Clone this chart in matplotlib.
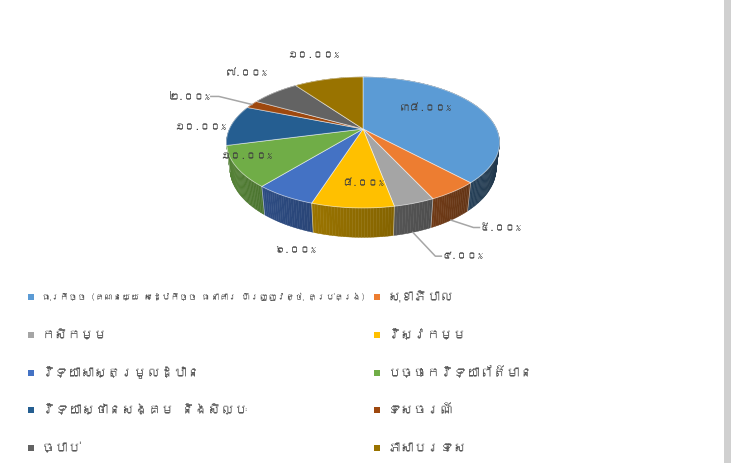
import numpy as np
import matplotlib
matplotlib.use("Agg")
import matplotlib.pyplot as plt
from matplotlib.patches import Polygon, Rectangle
import matplotlib.colors as mcolors
from matplotlib import font_manager
from matplotlib.ft2font import FT2Font

# look for an installed family that covers Khmer script
khmer_family = None
for fe in font_manager.fontManager.ttflist:
    try:
        cmap = FT2Font(fe.fname).get_charmap()
    except Exception:
        continue
    if ord("ក") in cmap and ord("្") in cmap:
        khmer_family = fe.name
        break
families = ([khmer_family] if khmer_family else []) + ["DejaVu Sans"]
plt.rcParams['font.family'] = families

# ---------------- data ----------------
categories = [
    "ធុរកិច្ច (គណនេយ្យ សេដ្ឋកិច្ច ធនាគារ ហិរញ្ញវត្ថុ គ្រប់គ្រង)",
    "សុខាភិបាល",
    "កសិកម្ម",
    "វិស្វកម្ម",
    "វិទ្យាសាស្ត្រមូលដ្ឋាន",
    "បច្ចេកវិទ្យាព័ត៌មាន",
    "វិទ្យាស្ថានសង្គម និងសិល្បៈ",
    "ទេសចរណ៍",
    "ច្បាប់",
    "ភាសាបរទេស",
]
values = [38, 5, 4, 8, 6, 10, 10, 2, 7, 10]
colors = ["#5B9BD5", "#ED7D31", "#A5A5A5", "#FFC000", "#4472C4",
          "#70AD47", "#255E91", "#9E480E", "#636363", "#997300"]

# ---------------- layout ----------------
W, H = 731, 463
fig = plt.figure(figsize=(W / 100, H / 100), dpi=100)
ax = fig.add_axes([0, 0, 1, 1])
ax.set_xlim(0, W)
ax.set_ylim(H, 0)
ax.axis("off")

cx, cy, R = 363, 129, 133.6
alpha = np.radians(28)
kpersp = 0.233
depth = 0.22


def proj(theta, r=1.0, z=0.0):
    X = r * np.sin(theta)
    Y = r * np.cos(theta)
    v = Y * np.sin(alpha) + z * np.cos(alpha)
    w = Y * np.cos(alpha) - z * np.sin(alpha)
    p = 1.0 / (1.0 + kpersp * w)
    return cx + R * X * p, cy - R * v * p


vals = np.array(values, dtype=float)
frac = vals / vals.sum()
edges = np.concatenate([[0], np.cumsum(frac)]) * 2 * np.pi


def shade(color, f):
    rgb = np.array(mcolors.to_rgb(color))
    return tuple(np.clip(rgb * f, 0, 1))


# side walls (split in small pieces, drawn back to front)
quads = []
for i in range(len(vals)):
    a0, a1 = edges[i], edges[i + 1]
    n = max(2, int(np.degrees(a1 - a0) / 1.0))
    ts = np.linspace(a0, a1, n + 1)
    for j in range(n):
        t0, t1 = ts[j], ts[j + 1]
        tm = 0.5 * (t0 + t1)
        pts = [proj(t0), proj(t1), proj(t1, z=-depth), proj(t0, z=-depth)]
        deg = np.degrees(tm)
        f = np.clip(0.38 + (deg - 125) / 110 * 0.34, 0.36, 0.74)
        quads.append((np.cos(tm), pts, shade(colors[i], f)))
quads.sort(key=lambda q: -q[0])
for _, pts, c in quads:
    ax.add_patch(Polygon(pts, closed=True, facecolor=c, edgecolor=c, lw=0.3))

# separators on front walls
for e in edges:
    if np.cos(e) < 0.15:
        x0, y0 = proj(e)
        x1, y1 = proj(e, z=-depth)
        ax.plot([x0, x1], [y0, y1], color=(1, 1, 1, 0.5), lw=0.6)

# top faces
for i in range(len(vals)):
    ts = np.linspace(edges[i], edges[i + 1], 120)
    pts = [(cx, cy)] + [proj(t) for t in ts]
    ax.add_patch(Polygon(pts, closed=True, facecolor=colors[i],
                         edgecolor=(1, 1, 1, 0.55), lw=0.6))

# ---------------- data labels ----------------
khmer_digits = str.maketrans("0123456789", "០១២៣៤៥៦៧៨៩")
label_offsets = [(-53, 0), (47, 36), (48, 53), (10, -25), (10, 54),
                 (10, -11), (-31, 2), (-62, -8), (-28, -20), (-15, -24)]
leader = {1: "right", 2: "right", 7: "left"}
for i in range(len(vals)):
    mid = 0.5 * (edges[i] + edges[i + 1])
    ax_, ay_ = proj(mid)
    lx, ly = ax_ + label_offsets[i][0], ay_ + label_offsets[i][1]
    txt = f"{values[i]:.2f}%".translate(khmer_digits)
    ax.text(lx, ly, txt, fontsize=7.5, color="#404040", ha="center", va="center")
    if i in leader:
        if leader[i] == "right":
            sx, sy = proj(mid, z=-depth)
            ex = lx - 21
            ax.plot([sx, ex - 6, ex], [sy, ly, ly], color="#a6a6a6", lw=1.1)
        else:
            sx, sy = ax_, ay_
            ex = lx + 21
            ax.plot([sx, ex + 8, ex], [sy, ly, ly], color="#a6a6a6", lw=1.1)

# ---------------- legend ----------------
col_x = [28, 374]
row_y0, row_dy = 297, 37.8
legend_fs = 9.5
legend_texts = []
for i, name in enumerate(categories):
    r, c = divmod(i, 2)
    x = col_x[c]
    y = row_y0 + r * row_dy
    ax.add_patch(Rectangle((x, y - 3), 6, 6, facecolor=colors[i], edgecolor="none"))
    legend_texts.append(ax.text(x + 14, y, name, fontsize=legend_fs, color="#595959",
                                ha="left", va="center"))

# shrink any first-column legend text that would run into the second column
fig.canvas.draw()
renderer = fig.canvas.get_renderer()
limit = col_x[1] - 8
for t in legend_texts[0::2]:
    bb = t.get_window_extent(renderer)
    if bb.x1 > limit:
        scale = (limit - (col_x[0] + 14)) / (bb.x1 - (col_x[0] + 14))
        t.set_fontsize(legend_fs * scale)

# right border bar
ax.add_patch(Rectangle((724, 0), 7, H, facecolor="#d0d0d0", edgecolor="none"))

fig.savefig("out.png", dpi=100)
